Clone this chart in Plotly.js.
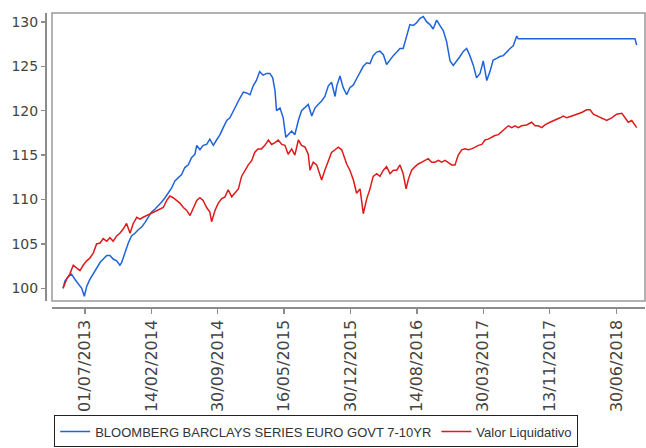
<!DOCTYPE html>
<html>
<head>
<meta charset="utf-8">
<script src="https://cdn.plot.ly/plotly-3.0.1.min.js"></script>
<style>html,body{margin:0;padding:0;background:#fff;}#chart{width:646px;height:448px;}</style>
</head>
<body>
<div id="chart"></div>
<script>
const seriesNames = ["BLOOMBERG BARCLAYS SERIES EURO GOVT 7-10YR", "Valor Liquidativo"];

const benchDates = ["2013-04-17","2013-04-23","2013-05-04","2013-05-16","2013-05-28","2013-06-07","2013-06-20","2013-06-29","2013-07-07","2013-07-18","2013-07-30","2013-08-10","2013-08-22","2013-09-02","2013-09-14","2013-09-25","2013-10-06","2013-10-18","2013-10-29","2013-11-04","2013-11-15","2013-11-27","2013-12-08","2013-12-20","2013-12-31","2014-01-12","2014-01-23","2014-02-03","2014-02-15","2014-02-26","2014-03-10","2014-03-21","2014-04-02","2014-04-13","2014-04-25","2014-05-06","2014-05-17","2014-05-29","2014-06-09","2014-06-21","2014-07-02","2014-07-14","2014-07-20","2014-07-31","2014-08-11","2014-08-23","2014-09-03","2014-09-15","2014-09-26","2014-10-08","2014-10-19","2014-10-31","2014-11-11","2014-11-22","2014-12-04","2014-12-15","2014-12-27","2015-01-07","2015-01-19","2015-01-30","2015-02-10","2015-02-21","2015-03-05","2015-03-17","2015-03-28","2015-04-07","2015-04-15","2015-04-20","2015-05-02","2015-05-13","2015-05-22","2015-05-30","2015-06-11","2015-06-22","2015-07-04","2015-07-15","2015-07-27","2015-08-07","2015-08-19","2015-08-30","2015-09-10","2015-09-22","2015-10-03","2015-10-15","2015-10-26","2015-11-07","2015-11-13","2015-11-24","2015-12-05","2015-12-17","2015-12-28","2016-01-09","2016-01-20","2016-02-01","2016-02-12","2016-02-24","2016-03-06","2016-03-17","2016-03-29","2016-04-09","2016-04-21","2016-05-02","2016-05-14","2016-05-25","2016-06-06","2016-06-17","2016-06-28","2016-07-10","2016-07-21","2016-08-02","2016-08-13","2016-08-25","2016-09-05","2016-09-17","2016-09-28","2016-10-09","2016-10-21","2016-11-01","2016-11-13","2016-11-24","2016-12-06","2016-12-17","2016-12-29","2017-01-09","2017-01-21","2017-02-01","2017-02-12","2017-02-24","2017-03-07","2017-03-19","2017-03-30","2017-04-11","2017-04-22","2017-05-03","2017-05-15","2017-05-26","2017-06-07","2017-06-18","2017-06-30","2017-07-11","2017-07-23","2017-07-28","2018-09-02","2018-09-08"];
const benchValues = [100.0,100.8,101.3,101.6,101.0,100.6,100.0,99.1,100.2,101.0,101.7,102.2,102.9,103.3,103.7,103.7,103.3,103.1,102.6,102.9,104.0,105.1,105.9,106.2,106.6,106.9,107.4,108.0,108.6,108.9,109.3,109.7,110.2,110.8,111.3,112.1,112.4,112.8,113.6,113.9,114.7,115.1,116.1,115.6,116.1,116.2,116.8,116.1,116.7,117.3,118.1,118.9,119.2,120.0,120.7,121.4,122.1,122.0,121.8,122.8,123.4,124.4,124.0,124.2,124.2,123.7,122.2,120.0,120.3,119.2,117.0,117.3,117.7,117.3,118.9,120.0,120.4,120.7,119.4,120.3,120.7,121.1,121.6,122.8,123.2,121.6,122.8,123.9,122.6,121.8,122.6,122.9,123.6,124.4,125.0,125.4,125.3,126.2,126.6,126.7,126.3,125.2,125.8,126.2,126.6,127.0,127.0,128.4,129.7,129.6,129.9,130.4,130.6,130.0,129.7,129.2,130.2,129.6,129.0,127.8,125.6,125.1,125.6,126.1,126.7,127.0,126.2,125.1,123.7,124.2,125.6,123.4,124.4,125.7,125.9,126.1,126.2,126.6,127.0,127.3,128.4,128.1,128.1,127.4];

const fundDates = ["2013-04-17","2013-04-29","2013-05-10","2013-05-22","2013-06-02","2013-06-14","2013-06-25","2013-07-07","2013-07-18","2013-07-30","2013-08-10","2013-08-22","2013-09-02","2013-09-14","2013-09-25","2013-10-06","2013-10-18","2013-10-29","2013-11-10","2013-11-21","2013-12-03","2013-12-14","2013-12-26","2014-01-06","2014-01-17","2014-01-29","2014-02-09","2014-02-21","2014-03-04","2014-03-16","2014-03-27","2014-04-08","2014-04-19","2014-04-30","2014-05-12","2014-05-23","2014-06-04","2014-06-15","2014-06-27","2014-07-08","2014-07-20","2014-07-31","2014-08-11","2014-08-23","2014-09-03","2014-09-09","2014-09-21","2014-10-02","2014-10-14","2014-10-25","2014-11-05","2014-11-17","2014-11-28","2014-12-10","2014-12-21","2015-01-02","2015-01-13","2015-01-25","2015-02-04","2015-02-15","2015-02-27","2015-03-11","2015-03-23","2015-04-03","2015-04-15","2015-04-26","2015-05-08","2015-05-19","2015-05-30","2015-06-11","2015-06-22","2015-07-04","2015-07-15","2015-07-27","2015-08-07","2015-08-13","2015-08-24","2015-09-05","2015-09-16","2015-09-22","2015-10-03","2015-10-15","2015-10-26","2015-11-07","2015-11-18","2015-11-30","2015-12-11","2015-12-17","2015-12-28","2016-01-09","2016-01-20","2016-02-01","2016-02-12","2016-02-24","2016-03-06","2016-03-17","2016-03-29","2016-04-09","2016-04-21","2016-05-02","2016-05-14","2016-05-25","2016-06-06","2016-06-17","2016-06-28","2016-07-08","2016-07-16","2016-07-27","2016-08-08","2016-08-19","2016-08-31","2016-09-11","2016-09-22","2016-10-04","2016-10-15","2016-10-27","2016-11-07","2016-11-19","2016-11-30","2016-12-12","2016-12-23","2017-01-03","2017-01-15","2017-01-26","2017-02-07","2017-02-18","2017-03-02","2017-03-13","2017-03-25","2017-04-05","2017-04-16","2017-04-28","2017-05-09","2017-05-21","2017-06-01","2017-06-13","2017-06-24","2017-07-06","2017-07-17","2017-07-28","2017-08-09","2017-08-26","2017-09-12","2017-09-24","2017-10-05","2017-10-17","2017-10-28","2017-11-14","2017-12-01","2017-12-19","2017-12-30","2018-01-11","2018-01-28","2018-02-14","2018-03-03","2018-03-20","2018-04-01","2018-04-12","2018-04-24","2018-05-11","2018-05-28","2018-06-14","2018-07-01","2018-07-19","2018-07-30","2018-08-10","2018-08-22","2018-09-02","2018-09-08"];
const fundValues = [100.0,101.0,101.6,102.6,102.3,102.0,102.6,103.1,103.4,104.0,105.0,105.1,105.6,105.3,105.7,105.3,105.9,106.2,106.7,107.3,106.2,107.3,108.0,107.8,108.0,108.2,108.4,108.6,108.8,109.0,109.1,109.9,110.4,110.2,109.9,109.6,109.1,108.8,108.2,109.1,109.9,110.2,109.9,109.1,108.6,107.5,108.8,109.6,110.1,110.3,111.1,110.3,110.7,111.2,112.6,113.3,113.9,114.4,115.3,115.7,115.7,116.1,116.7,116.2,116.4,116.7,116.2,116.1,115.1,115.7,115.0,116.7,116.1,115.9,115.1,113.3,114.2,113.9,112.9,112.2,113.3,114.4,115.3,115.6,115.9,115.6,114.6,114.0,113.3,112.2,110.7,111.2,108.4,110.1,111.2,112.6,112.9,112.6,113.3,113.7,112.9,113.3,113.3,113.9,112.9,111.2,112.3,113.3,113.7,114.0,114.2,114.4,114.6,114.2,114.2,114.4,114.2,114.4,114.2,113.9,113.9,115.0,115.6,115.7,115.6,115.7,115.9,116.1,116.2,116.7,116.8,117.0,117.2,117.3,117.6,117.9,118.3,118.1,118.3,118.1,118.3,118.4,118.7,118.3,118.3,118.1,118.4,118.7,118.9,119.2,119.4,119.2,119.4,119.6,119.8,120.1,120.1,119.6,119.4,119.2,118.9,119.2,119.6,119.7,119.2,118.7,118.9,118.4,118.1];

const yTicks = [100, 105, 110, 115, 120, 125, 130];
const xTickDates = ["2013-07-01","2014-02-14","2014-09-30","2015-05-16","2015-12-30","2016-08-14","2017-03-30","2017-11-13","2018-06-30"];
const xTickLabels = ["01/07/2013","14/02/2014","30/09/2014","16/05/2015","30/12/2015","14/08/2016","30/03/2017","13/11/2017","30/06/2018"];

const traces = [
  {x: benchDates, y: benchValues, name: seriesNames[0], type: "scatter", mode: "lines",
   line: {color: "#1f63dc", width: 1.5}},
  {x: fundDates, y: fundValues, name: seriesNames[1], type: "scatter", mode: "lines",
   line: {color: "#de1a1a", width: 1.5}}
];

const axisGray = "#8c8c8c";
const layout = {
  width: 646, height: 448,
  margin: {l: 45, r: 1, t: 13, b: 137, pad: 0},
  paper_bgcolor: "#ffffff", plot_bgcolor: "#ffffff",
  showlegend: true,
  xaxis: {
    type: "date", domain: [0.0117, 1], anchor: "free", position: 0,
    range: ["2013-03-10", "2018-10-06 12:00"],
    showgrid: false, zeroline: false,
    showline: true, linecolor: axisGray, linewidth: 1.5,
    ticks: "outside", ticklen: 5, tickwidth: 1.5, tickcolor: axisGray,
    tickmode: "array", tickvals: xTickDates, ticktext: xTickLabels,
    tickangle: -90,
    tickfont: {family: "DejaVu Sans", size: 16, color: "#444444"}
  },
  yaxis: {
    domain: [0.02, 1], anchor: "free", position: 0,
    range: [98.56, 131.0],
    showgrid: false, zeroline: false,
    showline: true, linecolor: axisGray, linewidth: 1.5,
    ticks: "outside", ticklen: 4, tickwidth: 1.5, tickcolor: axisGray,
    tickmode: "array", tickvals: yTicks,
    tickfont: {family: "DejaVu Sans", size: 14, color: "#444444"}
  },
  shapes: [{type: "rect", xref: "x domain", yref: "y domain", x0: 0, x1: 1, y0: 0, y1: 1,
            line: {color: "#999999", width: 1.5}, fillcolor: "rgba(0,0,0,0)"}],
  legend: {
    orientation: "h", x: 0.452, xanchor: "center", y: -0.369, yanchor: "top",
    bordercolor: "#222222", borderwidth: 1, bgcolor: "#ffffff",
    font: {family: "Liberation Sans", size: 13, color: "#333333"},
    itemwidth: 30
  }
};

Plotly.newPlot("chart", traces, layout, {displayModeBar: false, staticPlot: true});
</script>
</body>
</html>
